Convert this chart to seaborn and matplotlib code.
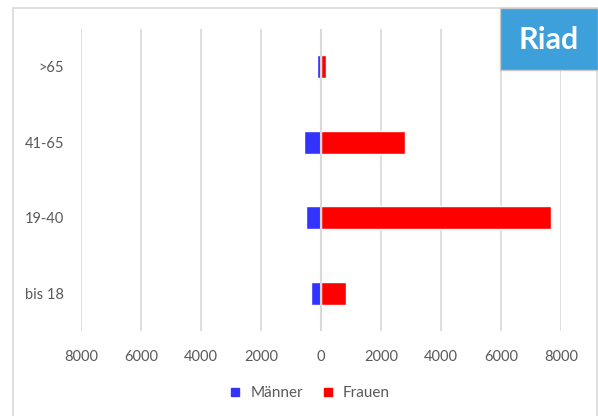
import pandas as pd
import numpy as np
import matplotlib
matplotlib.use('Agg')
import matplotlib.pyplot as plt
from matplotlib.patches import Rectangle
from matplotlib.ticker import FuncFormatter
import seaborn as sns

# ── Data ───────────────────────────────────────────────────────────────
age_groups = ['>65', '41-65', '19-40', 'bis 18']
maenner = [130, 570, 510, 330]
frauen = [150, 2800, 7670, 830]
ticks = [-8000, -6000, -4000, -2000, 0, 2000, 4000, 6000, 8000]

df = pd.DataFrame({
    'Alter': age_groups * 2,
    'Anzahl': [-v for v in maenner] + frauen,
    'Geschlecht': ['Männer'] * len(age_groups) + ['Frauen'] * len(age_groups),
})

sns.set_theme(style='white')
plt.rcParams['font.family'] = ['Lato', 'DejaVu Sans']
text_col = '#595959'
grid_col = '#D9D9D9'
colors = {'Männer': '#3333FF', 'Frauen': '#FF0000'}

fig = plt.figure(figsize=(5.98, 4.16), dpi=100)
ax = fig.add_axes([81/598, 1 - 331/416, 480/598, 302/416])

sns.barplot(data=df, y='Alter', x='Anzahl', hue='Geschlecht', order=age_groups,
            palette=colors, dodge=False, width=0.31, orient='h',
            saturation=1, ax=ax, zorder=3)

ax.set_xlim(-8000, 8000)
ax.set_xticks(ticks)
ax.xaxis.set_major_formatter(FuncFormatter(lambda v, p: f'{abs(int(v))}'))
ax.grid(axis='x', color=grid_col, lw=1.2, zorder=0)
ax.set_axisbelow(True)
ax.axvline(0, color=grid_col, lw=1.5, zorder=4)  # zero line shows between bars
for s in ax.spines.values():
    s.set_visible(False)
ax.tick_params(axis='both', length=0, labelsize=10.5, labelcolor=text_col)
ax.tick_params(axis='x', pad=14)
ax.tick_params(axis='y', pad=12)
ax.set_xlabel('')
ax.set_ylabel('')

# legend at the bottom
ax.get_legend().remove()
handles = [plt.Line2D([], [], marker='s', ls='', color=colors[k], markersize=6)
           for k in ['Männer', 'Frauen']]
fig.legend(handles, ['Männer', 'Frauen'], loc='center', bbox_to_anchor=(0.51, 1 - 393/416),
           ncol=2, frameon=False, fontsize=11, labelcolor=text_col,
           handletextpad=0.0, columnspacing=0.6)

# outer chart frame
fig.patches.append(Rectangle((13/598, -0.01), 584/598, 1 - 8/416 + 0.01,
                             transform=fig.transFigure, fill=False,
                             edgecolor=grid_col, lw=1.2))

# city label box
fig.patches.append(Rectangle((500/598, 1 - 70/416), 98/598, 62/416,
                             transform=fig.transFigure, facecolor='#3EA0DB',
                             edgecolor='#C8C8C8', lw=1, zorder=5))
fig.text(549/598, 1 - 40/416, 'Riad', ha='center', va='center', color='white',
         fontsize=22, fontweight='bold', zorder=6)

fig.savefig('out.png', dpi=100)
